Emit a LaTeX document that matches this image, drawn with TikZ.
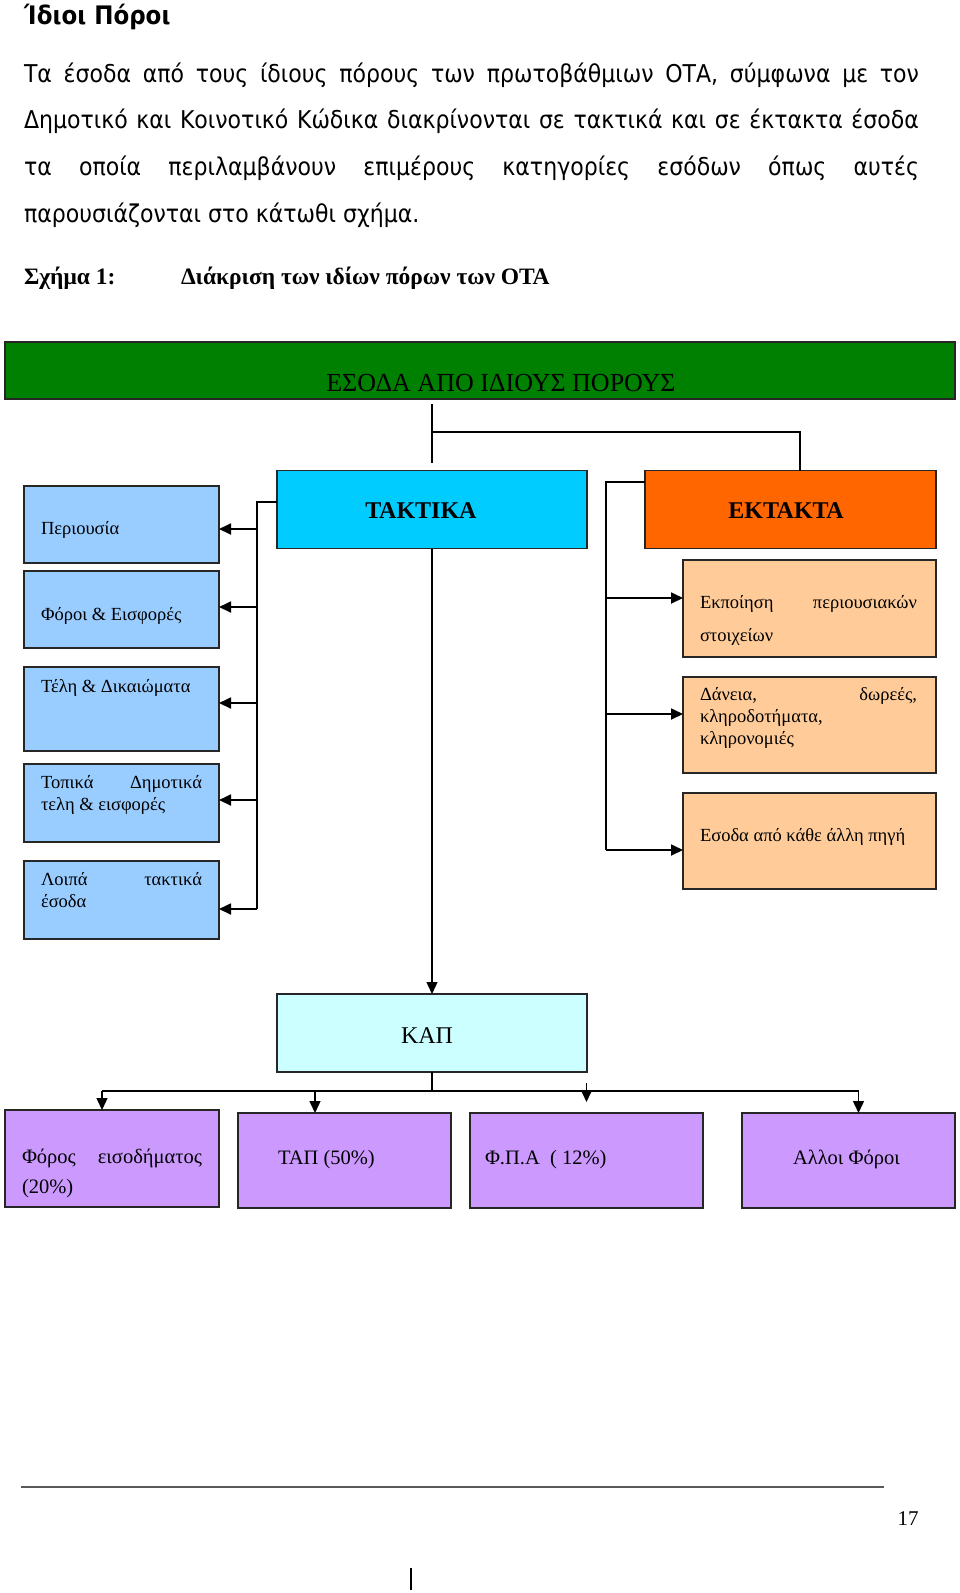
\documentclass[tikz,border=0pt]{standalone}
\usepackage{fontspec}
\setmainfont{Liberation Serif}
\newfontfamily\parafont[FakeStretch=0.9]{DejaVu Sans}
\usetikzlibrary{arrows.meta}

\definecolor{esodagreen}{RGB}{0,128,0}
\definecolor{taktcyan}{RGB}{0,204,255}
\definecolor{ektorange}{RGB}{255,102,0}
\definecolor{taktblue}{RGB}{153,204,255}
\definecolor{ektpeach}{RGB}{255,204,153}
\definecolor{kapcyan}{RGB}{204,255,255}
\definecolor{kappurple}{RGB}{204,153,255}

\begin{document}
\begin{tikzpicture}[x=1pt, y=-1pt,
    every node/.style={font=\fontsize{18.5}{22}\selectfont, inner sep=0pt, outer sep=0pt},
    box/.style={draw=black!85, line width=1.6pt, rectangle},
    txt/.style={anchor=base west, align=left},
    purptxt/.style={txt, font=\fontsize{20.5}{30}\selectfont},
    conn/.style={line width=1.8pt},
    arrow/.style={conn, -{Triangle[length=12pt, width=11pt]}}]
    \useasboundingbox (0,0) rectangle (960,1593);
    \fill[white] (0,0) rectangle (960,1593);

    % Heading, paragraph and caption
    \node[anchor=base west, font=\parafont\bfseries\fontsize{25.5}{28}\selectfont] (title) at (24,24) {Ίδιοι Πόροι};
    \node[anchor=base west, text width=895pt, align=justify, font=\parafont\fontsize{24.5}{46.7}\selectfont] (para) at (24,82)
        {Τα έσοδα από τους ίδιους πόρους των πρωτοβάθμιων ΟΤΑ, σύμφωνα με τον\linebreak
         Δημοτικό και Κοινοτικό Κώδικα διακρίνονται σε τακτικά και σε έκτακτα έσοδα\linebreak
         τα οποία περιλαμβάνουν επιμέρους κατηγορίες εσόδων όπως αυτές\linebreak
         παρουσιάζονται στο κάτωθι σχήμα.};
    \node[anchor=base west, font=\bfseries\fontsize{23.5}{27}\selectfont] (fig) at (24,284) {Σχήμα 1:};
    \node[anchor=base west, font=\bfseries\fontsize{23.5}{27}\selectfont] (figtitle) at (181,284) {Διάκριση των ιδίων πόρων των ΟΤΑ};

    % Top level
    \node[box, fill=esodagreen, minimum width=950pt, minimum height=57pt] (esoda) at (480,370.5) {};
    \node[anchor=base, font=\fontsize{26}{30}\selectfont] (esodaT) at (501,391) {ΕΣΟΔΑ ΑΠΟ ΙΔΙΟΥΣ ΠΟΡΟΥΣ};

    \node[box, fill=taktcyan, minimum width=310pt, minimum height=78pt] (takt) at (432,509.5) {};
    \node[anchor=base, font=\bfseries\fontsize{24}{28}\selectfont] (taktT) at (421,518) {ΤΑΚΤΙΚΑ};
    \node[box, fill=ektorange, minimum width=291pt, minimum height=78pt] (ekt) at (790.5,509.5) {};
    \node[anchor=base, font=\bfseries\fontsize{24}{28}\selectfont] (ektT) at (786,518) {ΕΚΤΑΚΤΑ};

    \coordinate (top1) at (432,404);
    \coordinate (top2) at (432,463);
    \coordinate (split) at (432,432);
    \draw[line width=1.4pt] (top1) -- (top2);
    \draw[line width=1.4pt] (split) -| ([xshift=9.5pt]ekt.north);

    % Regular income
    \node[box, fill=taktblue, minimum width=195pt, minimum height=77pt] (perious) at (121.5,524.5) {};
    \node[box, fill=taktblue, minimum width=195pt, minimum height=77pt] (foroi) at (121.5,609.5) {};
    \node[box, fill=taktblue, minimum width=195pt, minimum height=84pt] (teli) at (121.5,709) {};
    \node[box, fill=taktblue, minimum width=195pt, minimum height=78pt] (topika) at (121.5,803) {};
    \node[box, fill=taktblue, minimum width=195pt, minimum height=78pt] (loipa) at (121.5,900) {};

    \node[txt] (periousT) at (41,534) {Περιουσία};
    \node[txt] (foroiT) at (41,620) {Φόροι \& Εισφορές};
    \node[txt] (teliT) at (41,692) {Τέλη \& Δικαιώματα};
    \node[txt] (topikaT) at (41,810) {\makebox[161pt][s]{Τοπικά Δημοτικά}\\τελη \& εισφορές};
    \node[txt] (loipaT) at (41,907) {\makebox[161pt][s]{Λοιπά τακτικά}\\έσοδα};

    \coordinate (lbus) at (257,502);
    \foreach \b/\s in {perious/-4.5, foroi/2.5, teli/6, topika/3, loipa/-9}
        \path ([yshift=\s pt]\b.east) coordinate (t\b);
    \draw[conn] (takt.west |- lbus) -- (lbus) -- (lbus |- tloipa);
    \foreach \b in {perious, foroi, teli, topika, loipa}
        \draw[arrow] (lbus |- t\b) -- (t\b);

    % Extraordinary income
    \node[box, fill=ektpeach, minimum width=253pt, minimum height=97pt] (ekpoiisi) at (809.5,608.5) {};
    \node[box, fill=ektpeach, minimum width=253pt, minimum height=96pt] (daneia) at (809.5,725) {};
    \node[box, fill=ektpeach, minimum width=253pt, minimum height=96pt] (allipigi) at (809.5,841) {};

    \node[txt, font=\fontsize{18.5}{33}\selectfont] (ekpoiisiT) at (700,641) {\makebox[217pt][s]{Εκποίηση περιουσιακών}\\στοιχείων};
    \node[txt] (daneiaT) at (700,744) {\makebox[217pt][s]{Δάνεια, δωρεές,}\\κληροδοτήματα,\\κληρονομιές};
    \node[txt] (allipigiT) at (700,841) {Εσοδα από κάθε άλλη πηγή};

    \coordinate (rbus) at (606,482);
    \foreach \b/\s in {ekpoiisi/10.5, daneia/11, allipigi/-9}
        \path ([yshift=\s pt]\b.west) coordinate (t\b);
    \draw[conn] (ekt.west |- rbus) -- (rbus) -- (rbus |- tallipigi);
    \foreach \b in {ekpoiisi, daneia, allipigi}
        \draw[arrow] (rbus |- t\b) -- (t\b);

    % KAP and its parts
    \node[box, fill=kapcyan, minimum width=310pt, minimum height=78pt] (kap) at (432,1033) {};
    \node[anchor=base, font=\fontsize{24}{28}\selectfont] (kapT) at (427,1043) {ΚΑΠ};
    \draw[arrow, line width=1.4pt] (takt.south) -- (kap.north);

    \node[box, fill=kappurple, minimum width=214pt, minimum height=97pt] (foros) at (112,1158.5) {};
    \node[box, fill=kappurple, minimum width=213pt, minimum height=95pt] (tap) at (344.5,1160.5) {};
    \node[box, fill=kappurple, minimum width=233pt, minimum height=95pt] (fpa) at (586.5,1160.5) {};
    \node[box, fill=kappurple, minimum width=213pt, minimum height=95pt] (alloi) at (848.5,1160.5) {};

    \node[purptxt] (forosT) at (22,1193) {\makebox[180pt][s]{Φόρος εισοδήματος}\\(20\%)};
    \node[purptxt] (tapT) at (278,1164) {ΤΑΠ (50\%)};
    \node[purptxt] (fpaT) at (485,1164) {Φ.Π.Α\ \ ( 12\%)};
    \node[purptxt] (alloiT) at (793,1164) {Αλλοι Φόροι};

    \coordinate (kbus) at (432,1091);
    \coordinate (fpatop) at (586.5,1083);
    \path ([xshift=-10pt]foros.north) coordinate (afor)
          ([xshift=-29.5pt]tap.north) coordinate (atap)
          ([xshift=10pt]alloi.north) coordinate (aall)
          ([yshift=11pt]fpa.north) coordinate (afpa);
    \draw[conn, line width=1.4pt] (kap.south) -- (kbus);
    \draw[conn, line width=1.4pt] (afor |- kbus) -- (aall |- kbus);
    \foreach \a in {afor, atap, aall}
        \draw[arrow, line width=1.4pt] (\a |- kbus) -- (\a);
    \draw[arrow, line width=1.4pt] (fpatop) -- (afpa);

    % Page footer
    \draw[line width=2.5pt, black!65] (21,1487) -- (884,1487);
    \node[anchor=base, font=\fontsize{21}{25}\selectfont] (page) at (908,1525) {17};
    \draw[line width=1.3pt] (411,1568) -- (411,1590);
\end{tikzpicture}
\end{document}
